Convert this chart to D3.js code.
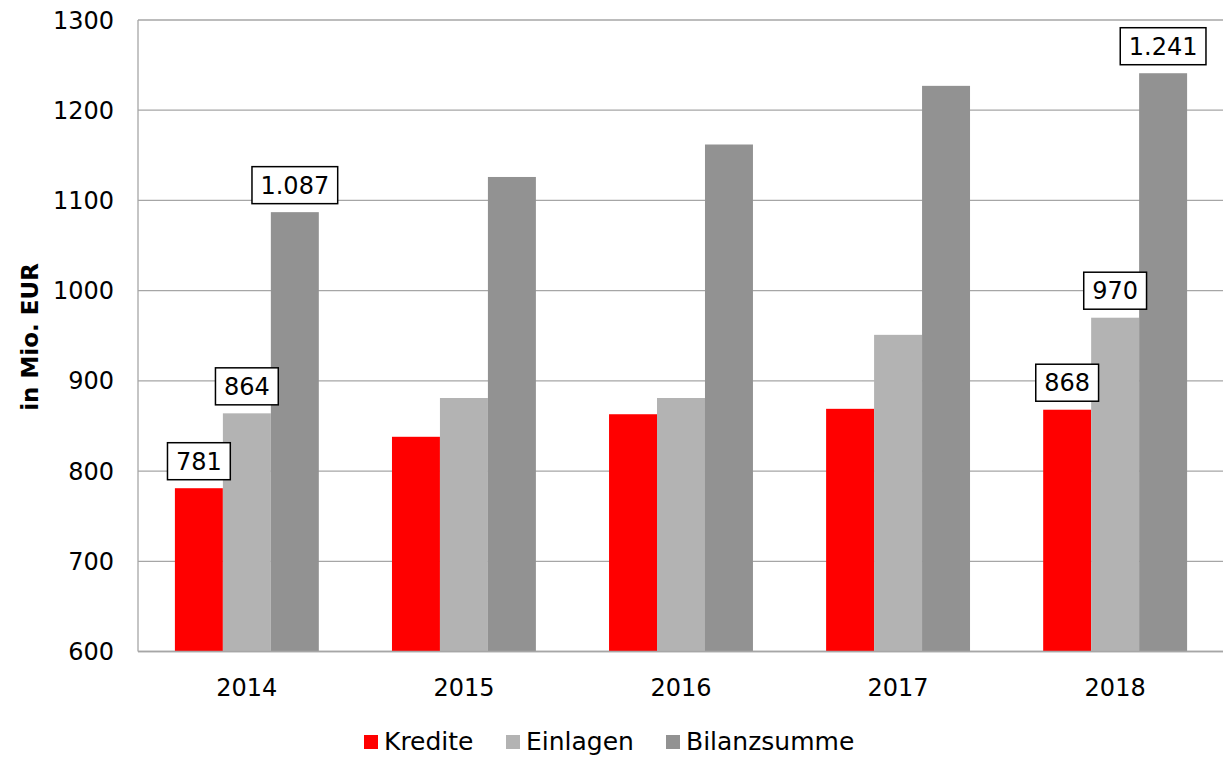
<!DOCTYPE html>
<html><head><meta charset="utf-8">
<script src="https://cdn.jsdelivr.net/npm/d3@7"></script>
<style>body{margin:0;background:#fff}svg{display:block}text{font-family:"DejaVu Sans",sans-serif}</style>
</head><body><svg id="c" width="1223" height="758"></svg>
<script>
const years = ["2014","2015","2016","2017","2018"];
const seriesNames = ["Kredite","Einlagen","Bilanzsumme"];
const kredite = [781, 838, 863, 869, 868];
const einlagen = [864, 881, 881, 951, 970];
const bilanzsumme = [1087, 1126, 1162, 1227, 1241];
const yTicks = [600,700,800,900,1000,1100,1200,1300];
const labelled = [
  {s:0, i:0, text:"781"}, {s:1, i:0, text:"864"}, {s:2, i:0, text:"1.087"},
  {s:0, i:4, text:"868"}, {s:1, i:4, text:"970"}, {s:2, i:4, text:"1.241"}
];
const colors = ["#ff0000","#b3b3b3","#929292"];
const series = [kredite, einlagen, bilanzsumme];

const svg = d3.select("#c");
const L = 138, R = 1224, T = 20, B = 651.5;
const x = d3.scaleBand().domain(years).range([L, R]).paddingInner(0.337).paddingOuter(0.17);
const xs = d3.scaleBand().domain(d3.range(3)).range([0, x.bandwidth()]);
const y = d3.scaleLinear().domain([600,1300]).range([B, T]);

// grid
svg.append("g").selectAll("line").data(yTicks).join("line")
  .attr("x1", L).attr("x2", 1223).attr("y1", d=>y(d)).attr("y2", d=>y(d))
  .attr("stroke", "#a6a6a6").attr("stroke-width", 1.3);

// bars
const g = svg.append("g");
series.forEach((vals, s) => {
  g.selectAll(null).data(vals).join("rect")
    .attr("x", (d,i)=>x(years[i]) + xs(s))
    .attr("width", xs.bandwidth())
    .attr("y", d=>y(d))
    .attr("height", d=>B - y(d))
    .attr("fill", colors[s]);
});

// axes lines
svg.append("line").attr("x1", L).attr("x2", L).attr("y1", T).attr("y2", B).attr("stroke","#a6a6a6").attr("stroke-width",1.3);
svg.append("line").attr("x1", L).attr("x2", 1223).attr("y1", B).attr("y2", B).attr("stroke","#a6a6a6").attr("stroke-width",1.3);

// y ticks
svg.append("g").selectAll("text").data(yTicks).join("text")
  .attr("x", 114).attr("y", d=>y(d)).attr("dy","0.36em")
  .attr("text-anchor","end").attr("font-size", 24).attr("fill","#000")
  .text(d=>d);

// x ticks
svg.append("g").selectAll("text").data(years).join("text")
  .attr("x", d=>x(d)+x.bandwidth()/2).attr("y", 696)
  .attr("text-anchor","middle").attr("font-size", 24).attr("fill","#000")
  .text(d=>d);

// y title
svg.append("text").attr("transform","translate(38,337) rotate(-90)")
  .attr("text-anchor","middle").attr("font-size",23).attr("font-weight","bold")
  .text("in Mio. EUR");

// data labels
const lg = svg.append("g");
labelled.forEach(l => {
  const v = series[l.s][l.i];
  const cx = x(years[l.i]) + xs(l.s) + xs.bandwidth()/2;
  const t = lg.append("text").attr("x", cx).attr("font-size", 24).attr("text-anchor","middle").text(l.text);
  const w = t.node().getComputedTextLength() + 17;
  const h = 37;
  const bottom = y(v) - 8.5;
  lg.insert("rect", "text").attr("x", cx - w/2).attr("y", bottom - h).attr("width", w).attr("height", h)
    .attr("fill","#fff").attr("stroke","#000").attr("stroke-width",1.5);
  t.attr("y", bottom - h/2).attr("dy","0.36em");
});

// legend
const legendX = [364, 506, 666];
const leg = svg.append("g");
seriesNames.forEach((n, i) => {
  leg.append("rect").attr("x", legendX[i]).attr("y", 735).attr("width", 14).attr("height", 14).attr("fill", colors[i]);
  leg.append("text").attr("x", legendX[i] + 20).attr("y", 750).attr("font-size", 25).text(n);
});
</script></body></html>
